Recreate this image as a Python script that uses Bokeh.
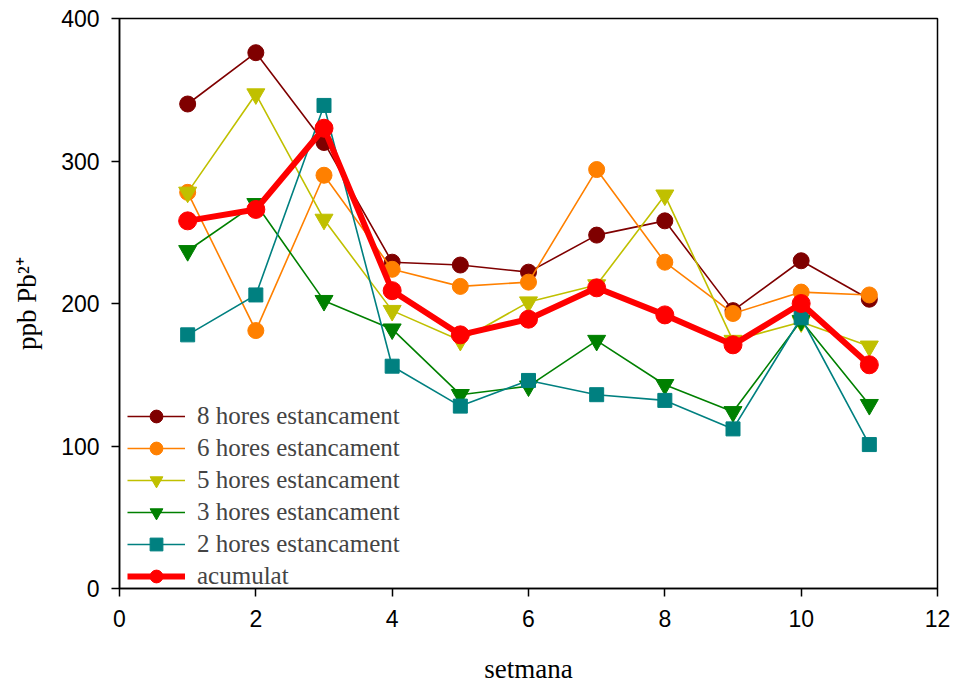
import math
from bokeh.plotting import figure
from bokeh.models import Legend, LegendItem, Range1d
from bokeh.embed import file_html
from bokeh.resources import INLINE

setmana = [1, 2, 3, 4, 5, 6, 7, 8, 9, 10, 11]
h8 = [340, 376, 313, 229, 227, 222, 248, 258, 195, 230, 203]
h6 = [278, 181, 290, 224, 212, 215, 294, 229, 193, 208, 206]
h5 = [278, 347, 259, 195, 174, 201, 213, 276, 174, 187, 170]
h3 = [237, 270, 202, 182, 136, 142, 174, 143, 124, 188, 129]
h2 = [178, 206, 339, 156, 128, 146, 136, 132, 112, 190, 101]
acumulat = [258, 266, 323, 209, 178, 189, 211, 192, 171, 200, 157]
x_ticks = [0, 2, 4, 6, 8, 10, 12]
y_ticks = [0, 100, 200, 300, 400]

p = figure(width=953, height=686, output_backend="svg", toolbar_location=None,
           x_range=Range1d(0, 12), y_range=Range1d(0, 400),
           min_border_left=119, min_border_right=16, min_border_top=18, min_border_bottom=96)
p.xgrid.visible = False
p.ygrid.visible = False
p.outline_line_color = "black"
p.outline_line_width = 1.5
p.background_fill_color = "white"
p.border_fill_color = "white"

series = [
    ("8 hores estancament", h8, "#7f0000", "circle", 16),
    ("6 hores estancament", h6, "#ff8000", "circle", 16),
    ("5 hores estancament", h5, "#c0c000", "inverted_triangle", 18),
    ("3 hores estancament", h3, "#008000", "inverted_triangle", 18),
    ("2 hores estancament", h2, "#008080", "square", 14),
]
items = []
for name, ys, col, mk, sz in series:
    l = p.line(setmana, ys, line_color=col, line_width=1.6)
    s = p.scatter(setmana, ys, marker=mk, size=sz, fill_color=col, line_color=col)
    items.append(LegendItem(label=name, renderers=[l, s]))
l = p.line(setmana, acumulat, line_color="#ff0000", line_width=6)
s = p.scatter(setmana, acumulat, marker="circle", size=18, fill_color="#ff0000", line_color="#ff0000")
items.append(LegendItem(label="acumulat", renderers=[l, s]))

leg = Legend(items=items, location=(8, -4), padding=0, margin=0, spacing=0,
             glyph_width=58, glyph_height=32, label_standoff=12, label_height=32,
             label_text_font="Liberation Serif", label_text_font_size="25px",
             label_text_baseline="middle",
             background_fill_alpha=0, border_line_alpha=0)
p.add_layout(leg, "center")

for ax in (p.xaxis[0], p.yaxis[0]):
    ax.axis_line_width = 1.5
    ax.major_tick_line_width = 1.5
    ax.major_tick_out = 8
    ax.major_tick_in = 0
    ax.minor_tick_out = 0
    ax.minor_tick_in = 0
    ax.major_label_text_color = "black"
    ax.major_label_text_font = "Liberation Sans"

p.xaxis.ticker = x_ticks
p.yaxis.ticker = y_ticks
p.xaxis.major_label_text_font_size = "23px"
p.yaxis.major_label_text_font_size = "23px"
p.xaxis.major_label_standoff = 13
p.yaxis.major_label_standoff = 12
p.xaxis.axis_label = "setmana"
p.yaxis.axis_label = "ppb Pb\u00b2\u207a"
for ax in (p.xaxis[0], p.yaxis[0]):
    ax.axis_label_text_font = "Liberation Serif"
    ax.axis_label_text_font_style = "normal"
    ax.axis_label_text_font_size = "27px"
    ax.axis_label_text_color = "black"
p.xaxis.axis_label_standoff = 24
p.yaxis.axis_label_standoff = 16

open("out.html", "w").write(file_html(p, INLINE))
